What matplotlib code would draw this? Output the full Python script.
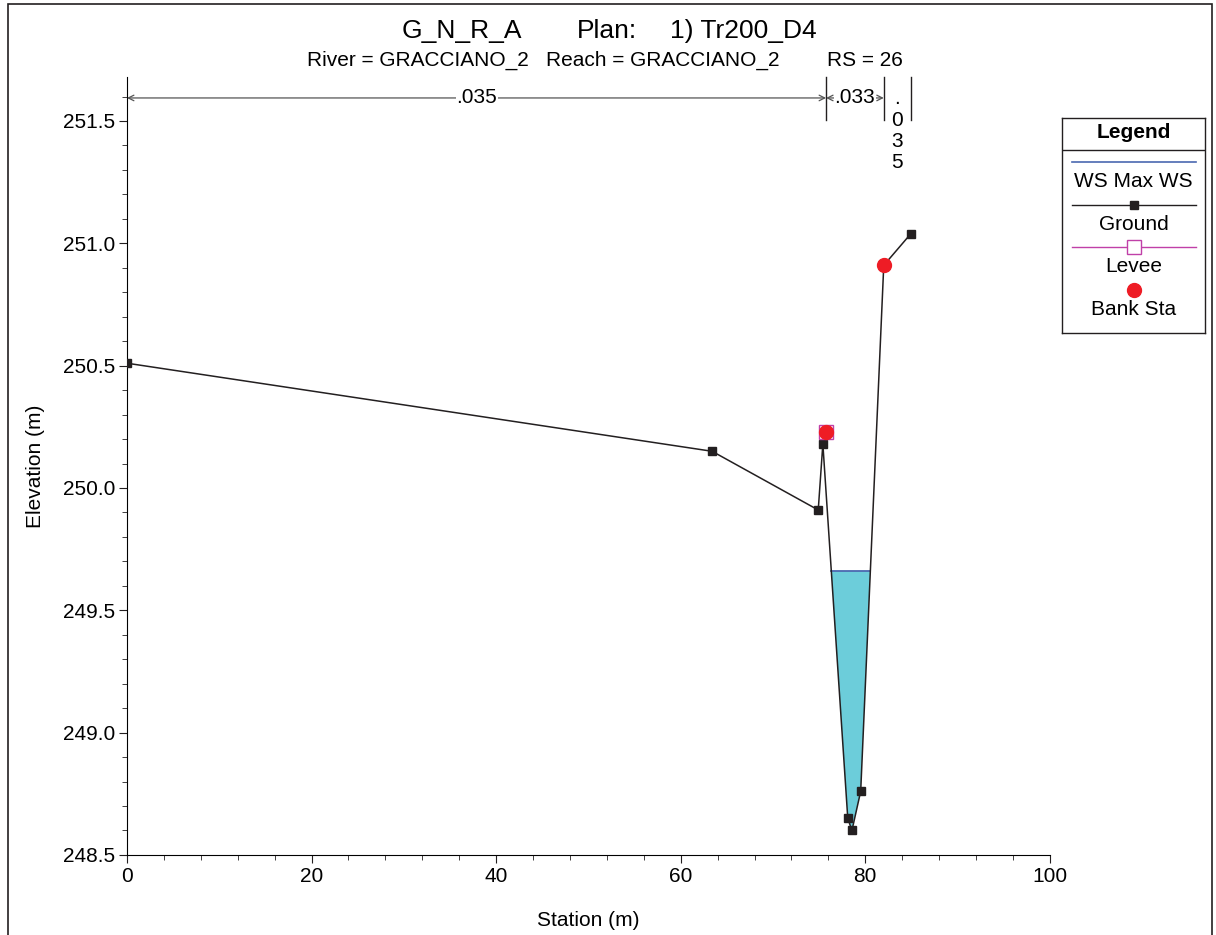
import matplotlib
matplotlib.use("Agg")
import matplotlib.pyplot as plt
import matplotlib.transforms as mtransforms
from matplotlib.patches import Rectangle
import numpy as np

plt.rcParams['font.family'] = ['Liberation Sans', 'DejaVu Sans']

# ground profile
station = [0.0, 63.4, 74.9, 75.4, 78.1, 78.55, 79.5, 82.0, 84.95]
ground = [250.51, 250.15, 249.91, 250.18, 248.65, 248.60, 248.76, 250.91, 251.04]
ws_max = 249.66
bank_sta = [75.75, 82.0]
bank_elev = [250.23, 250.91]
levee_sta = [75.75]
levee_elev = [250.23]
# manning's n regions
n_edges = [0.0, 75.75, 82.0, 84.95]
n_values = [".035", ".033", ".035"]

title_parts = ["G_N_R_A", "Plan:", "1) Tr200_D4"]
subtitle_parts = ["River = GRACCIANO_2", "Reach = GRACCIANO_2", "RS = 26"]

gcol = "#231f20"
wcol = "#6ccdda"
wscol = "#4a68b0"
lcol = "#c040a8"
bcol = "#ee1c25"
fs = 15

fig = plt.figure(figsize=(12.16, 9.35), dpi=100)
ax = fig.add_axes([0.1044, 0.0856, 0.7590, 0.8321])

# water surface fill where the ground dips below the ws
st = np.array(station)
gr = np.array(ground)
chan = [i for i in range(len(st)) if gr[i] < ws_max]
i0 = chan[0]
i1 = chan[-1]
xl = np.interp(ws_max, [gr[i0], gr[i0 - 1]], [st[i0], st[i0 - 1]])
xr = np.interp(ws_max, [gr[i1], gr[i1 + 1]], [st[i1], st[i1 + 1]])
px = np.concatenate([[xl], st[i0:i1 + 1], [xr]])
py = np.concatenate([[ws_max], gr[i0:i1 + 1], [ws_max]])
ax.fill(px, py, color=wcol, zorder=1, lw=0)
ax.plot([xl, xr], [ws_max, ws_max], color=wscol, lw=1.3, zorder=2)

ax.plot(station, ground, color=gcol, lw=1.1, marker="s", markersize=6, zorder=3)
ax.plot(levee_sta, levee_elev, ls="none", marker="s", markersize=10,
        markerfacecolor="none", markeredgecolor=lcol, zorder=4)
ax.plot(bank_sta, bank_elev, ls="none", marker="o", markersize=10,
        color=bcol, zorder=5)

ax.set_xlim(0, 100)
ax.set_ylim(248.5, 251.68)
ax.spines['top'].set_visible(False)
ax.spines['right'].set_visible(False)
ax.set_xticks(np.arange(0, 101, 20))
ax.set_xticks(np.arange(0, 101, 4), minor=True)
ax.set_yticks(np.arange(248.5, 251.6, 0.5))
ax.set_yticks(np.arange(248.5, 251.65, 0.1), minor=True)
ax.yaxis.set_major_formatter(matplotlib.ticker.FormatStrFormatter("%.1f"))
ax.tick_params(which="major", length=5.5, labelsize=fs, color=gcol, pad=3)
ax.tick_params(which="minor", length=3.5, color=gcol)
ax.set_xlabel("Station (m)", fontsize=fs, labelpad=18)
ax.set_ylabel("Elevation (m)", fontsize=fs, labelpad=13)

# manning's n annotations along the top
trans = mtransforms.blended_transform_factory(ax.transData, ax.transAxes)
ya = 0.973
for x in n_edges[1:]:
    ax.plot([x, x], [0.945, 1.0], color=gcol, lw=1.0, transform=trans, clip_on=False)
for k, lab in enumerate(n_values):
    x0, x1 = n_edges[k], n_edges[k + 1]
    xm = (x0 + x1) / 2
    if x1 - x0 > 5:
        ax.annotate("", xy=(x1, ya), xytext=(x0, ya), xycoords=trans, textcoords=trans,
                    arrowprops=dict(arrowstyle="<->", color="#555555", lw=0.9,
                                    shrinkA=0, shrinkB=0), annotation_clip=False)
        ax.text(xm, ya, lab, transform=trans, ha="center", va="center", fontsize=fs,
                bbox=dict(facecolor="white", edgecolor="none", pad=0.5), zorder=6)
    else:
        ax.text(xm, 0.984, "\n".join(lab), transform=trans, ha="center", va="top",
                fontsize=fs, linespacing=1.15)

# title and subtitle placed in pieces like the HEC-RAS header
for txt, xp in zip(title_parts, [402, 577, 670]):
    fig.text(xp / 1216, 0.967, txt, ha="left", va="center", fontsize=19)
for txt, xp in zip(subtitle_parts, [307, 546, 827]):
    fig.text(xp / 1216, 0.935, txt, ha="left", va="center", fontsize=15)

# legend box
lg = fig.add_axes([0.8734, 0.6439, 0.1176, 0.23])
lg.set_xlim(0, 1)
lg.set_ylim(0, 1)
lg.set_xticks([])
lg.set_yticks([])
for s in lg.spines.values():
    s.set_color(gcol)
    s.set_linewidth(1.0)
lg.text(0.5, 0.93, "Legend", ha="center", va="center", fontsize=fs, weight="bold")
lg.plot([0, 1], [0.851, 0.851], color=gcol, lw=1.0)
lx = [0.07, 0.937]
lg.plot(lx, [0.795, 0.795], color=wscol, lw=1.2)
lg.text(0.5, 0.702, "WS Max WS", ha="center", va="center", fontsize=fs)
lg.plot(lx, [0.595, 0.595], color=gcol, lw=1.0)
lg.plot([0.5], [0.595], marker="s", markersize=6, color=gcol)
lg.text(0.5, 0.502, "Ground", ha="center", va="center", fontsize=fs)
lg.plot(lx, [0.400, 0.400], color=lcol, lw=1.0)
lg.plot([0.5], [0.400], marker="s", markersize=10, markerfacecolor="white",
        markeredgecolor=lcol)
lg.text(0.5, 0.307, "Levee", ha="center", va="center", fontsize=fs)
lg.plot([0.5], [0.2], marker="o", markersize=10, color=bcol)
lg.text(0.5, 0.107, "Bank Sta", ha="center", va="center", fontsize=fs)

# outer frame
fig.patches.append(Rectangle((8 / 1216, -0.01), 1204 / 1216, 1.0057,
                             transform=fig.transFigure, fill=False,
                             edgecolor=gcol, lw=1.2))

fig.savefig("out.png", dpi=100)
